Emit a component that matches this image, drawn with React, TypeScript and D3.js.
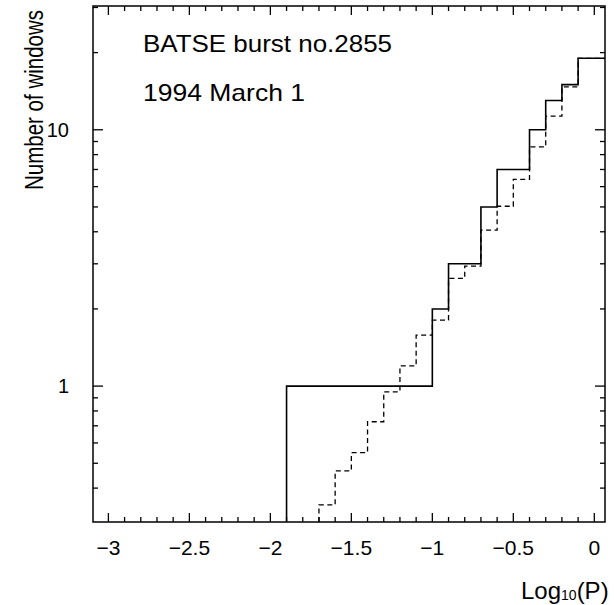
import { useRef, useEffect } from 'react'
import * as d3 from 'd3'

// observed burst: left edge of each log10(P) bin and cumulative count of windows
const solidEdges = [-1.9, -1.0, -0.9, -0.7, -0.6, -0.4, -0.3, -0.2, -0.1]
const solidCounts = [1, 2, 3, 5, 7, 10, 13, 15, 19]

// dashed comparison curve
const dashEdges = [-1.7, -1.6, -1.5, -1.4, -1.3, -1.2, -1.1, -1.0, -0.9, -0.8, -0.7, -0.6, -0.5, -0.4, -0.3, -0.2, -0.1]
const dashCounts = [0.344, 0.467, 0.55, 0.726, 0.95, 1.2, 1.58, 1.81, 2.63, 2.94, 4.06, 5.03, 6.41, 8.57, 11.3, 14.7, 19]

const xTickLabels = [-3, -2.5, -2, -1.5, -1, -0.5, 0]
const yTickLabels = [1, 10]

const W = 614
const H = 605
const FONT = '"Liberation Sans", Arial, sans-serif'

const App = () => {
  const svgRef = useRef<SVGSVGElement>(null)

  useEffect(() => {
    const svg = d3.select(svgRef.current)
    svg.selectAll('*').remove()

    const left = 93
    const right = 605
    const top = 6
    const bottom = 522

    const x = d3.scaleLinear().domain([-3.095, 0.066]).range([left, right])
    const y = d3.scaleLog().domain([0.295, 30.4]).range([bottom, top])
    const [, x1] = x.domain()
    const [y0, y1] = y.domain()

    const g = svg.append('g')

    // ticks on all four sides, pointing in
    const xMinor = d3.range(-30, 1).map((d) => d / 10)
    xMinor.forEach((v) => {
      const major = Math.abs(v * 2 - Math.round(v * 2)) < 1e-6
      const len = major ? 9 : 5
      g.append('line').attr('x1', x(v)).attr('x2', x(v)).attr('y1', bottom).attr('y2', bottom - len)
      g.append('line').attr('x1', x(v)).attr('x2', x(v)).attr('y1', top).attr('y2', top + len)
    })
    const yMinor: number[] = []
    ;[0.1, 1, 10].forEach((dec) => {
      for (let k = 1; k <= 9; k++) yMinor.push(dec * k)
    })
    yMinor
      .filter((v) => v > y0 * 1.08 && v < y1 * 0.99)
      .forEach((v) => {
        const major = v === 1 || v === 10
        const len = major ? 10 : 5
        g.append('line').attr('x1', left).attr('x2', left + len).attr('y1', y(v)).attr('y2', y(v))
        g.append('line').attr('x1', right).attr('x2', right - len).attr('y1', y(v)).attr('y2', y(v))
      })
    g.selectAll('line').attr('stroke', '#000').attr('stroke-width', 1.3)

    const step = d3
      .line<[number, number]>()
      .x((d) => x(d[0]))
      .y((d) => y(d[1]))
      .curve(d3.curveStepAfter)

    const toPoints = (edges: number[], counts: number[]): [number, number][] => {
      const pts: [number, number][] = [[edges[0], y0]]
      edges.forEach((e, i) => pts.push([e, counts[i]]))
      pts.push([x1, counts[counts.length - 1]])
      return pts
    }

    g.append('path')
      .attr('d', step(toPoints(dashEdges, dashCounts)))
      .attr('fill', 'none')
      .attr('stroke', '#000')
      .attr('stroke-width', 1.3)
      .attr('stroke-dasharray', '5,3.5')

    g.append('path')
      .attr('d', step(toPoints(solidEdges, solidCounts)))
      .attr('fill', 'none')
      .attr('stroke', '#000')
      .attr('stroke-width', 1.6)

    // frame
    g.append('rect')
      .attr('x', left)
      .attr('y', top)
      .attr('width', right - left)
      .attr('height', bottom - top)
      .attr('fill', 'none')
      .attr('stroke', '#000')
      .attr('stroke-width', 1.5)

    const txt = svg.append('g').attr('font-family', FONT).attr('fill', '#000')

    xTickLabels.forEach((v) => {
      txt
        .append('text')
        .attr('x', x(v))
        .attr('y', 555)
        .attr('text-anchor', 'middle')
        .attr('font-size', 21)
        .text(v === 0 ? '0' : '\u2212' + Math.abs(v))
    })
    yTickLabels.forEach((v) => {
      txt
        .append('text')
        .attr('x', 69)
        .attr('y', y(v) + 7)
        .attr('text-anchor', 'end')
        .attr('font-size', 20)
        .text(String(v))
    })

    txt
      .append('text')
      .attr('transform', 'translate(43, 100) rotate(-90)')
      .attr('text-anchor', 'middle')
      .attr('font-size', 26)
      .attr('textLength', 180)
      .attr('lengthAdjust', 'spacingAndGlyphs')
      .text('Number of windows')

    const xl = txt.append('text').attr('x', 521).attr('y', 599).attr('font-size', 24)
    xl.append('tspan').text('Log')
    xl.append('tspan').attr('font-size', 14).attr('dy', 1).text('10')
    xl.append('tspan').attr('dy', -1).text('(P)')

    txt
      .append('text')
      .attr('x', 143)
      .attr('y', 52)
      .attr('font-size', 24)
      .attr('textLength', 249)
      .attr('lengthAdjust', 'spacingAndGlyphs')
      .text('BATSE burst no.2855')
    txt
      .append('text')
      .attr('x', 143)
      .attr('y', 101)
      .attr('font-size', 24)
      .attr('textLength', 162)
      .attr('lengthAdjust', 'spacingAndGlyphs')
      .text('1994 March 1')
  }, [])

  return (
    <div style={{ position: 'absolute', left: 0, top: 0 }}>
      <svg ref={svgRef} width={W} height={H} style={{ display: 'block', background: '#fff' }}></svg>
    </div>
  )
}

export default App
